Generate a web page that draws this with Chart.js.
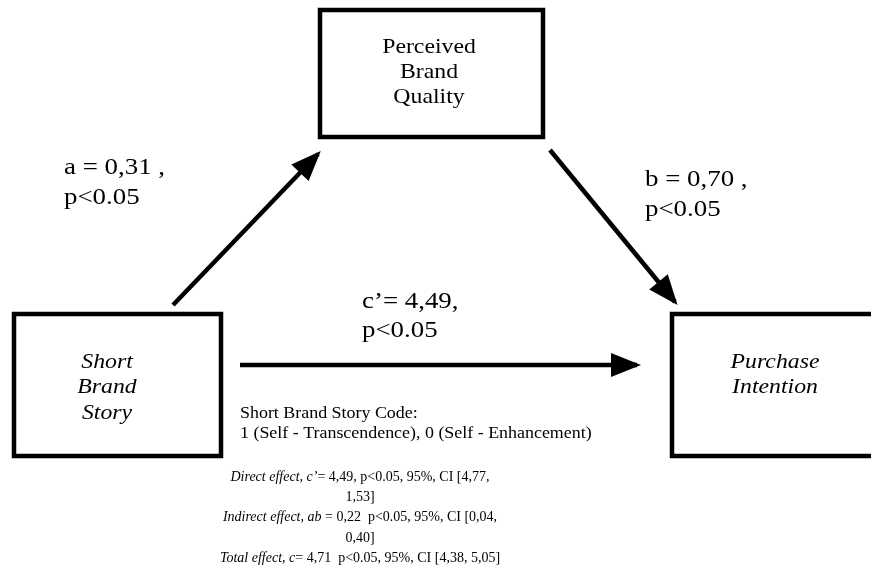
<!DOCTYPE html>
<html>
<head>
<meta charset="utf-8">
<script src="https://cdn.jsdelivr.net/npm/chart.js@4.4.1/dist/chart.umd.min.js"></script>
<style>
	html, body { margin: 0; padding: 0; background: #ffffff; }
	#wrap { width: 871px; height: 583px; }
</style>
</head>
<body>
<div id="wrap"><canvas id="mediation"></canvas></div>
<script>
// variables of the mediation model
const nodeLabels = [
	['Perceived', 'Brand', 'Quality'],
	['Short', 'Brand', 'Story'],
	['Purchase', 'Intention']
];
// path coefficients a, b, c'
const pathLabels = ['a = 0,31 ,', 'b = 0,70 ,', 'c\u2019= 4,49,'];
const pathSig = ['p<0.05', 'p<0.05', 'p<0.05'];
const codeNote = ['Short Brand Story Code:', '1 (Self - Transcendence), 0 (Self - Enhancement)'];
// [italic part, regular part]
const effectLines = [
	['Direct effect, c\u2019', '= 4,49, p<0.05, 95%, CI [4,77,'],
	['', '1,53]'],
	['Indirect effect, ab', ' = 0,22  p<0.05, 95%, CI [0,04,'],
	['', '0,40]'],
	['Total effect, c', '= 4,71  p<0.05, 95%, CI [4,38, 5,05]']
];

// layout, in canvas units (x 0..871, y 0..583 from top)
const boxes = [
	{ l: 320, t: 10, r: 543, b: 137, cx: 429, ys: [47, 72, 97], italic: false },
	{ l: 14, t: 314, r: 221, b: 456, cx: 107, ys: [362, 387, 413], italic: true },
	{ l: 672, t: 314, r: 890, b: 456, cx: 775, ys: [362, 387], italic: true }
];
const arrows = [
	{ from: [173, 305], to: [318, 154] },
	{ from: [550, 150], to: [675, 302] },
	{ from: [240, 365], to: [637, 365] }
];
const pathPos = [
	{ x: 64, ys: [168, 198] },
	{ x: 645, ys: [180, 210] },
	{ x: 362, ys: [302, 331] }
];

const SERIF = "'Liberation Serif', 'Times New Roman', serif";

// closed outline: the first edge is repeated so the start corner gets a mitre too
function boxData(bx) {
	return [
		{ x: bx.l, y: bx.t }, { x: bx.r, y: bx.t },
		{ x: bx.r, y: bx.b }, { x: bx.l, y: bx.b },
		{ x: bx.l, y: bx.t }, { x: bx.r, y: bx.t }
	];
}

const datasets = [];
boxes.forEach(function(bx) {
	datasets.push({
		data: boxData(bx),
		showLine: true,
		borderColor: '#000000',
		borderWidth: 4.5,
		borderJoinStyle: 'miter',
		pointRadius: 0,
		tension: 0
	});
});
arrows.forEach(function(ar) {
	datasets.push({
		arrow: true,
		data: [{ x: ar.from[0], y: ar.from[1] }, { x: ar.to[0], y: ar.to[1] }],
		showLine: true,
		borderColor: '#000000',
		borderWidth: 4.5,
		borderCapStyle: 'butt',
		pointRadius: 0
	});
});

function drawText(ctx, s, px, py, font, sx) {
	ctx.save();
	ctx.font = font;
	ctx.translate(px, py);
	ctx.scale(sx, 1);
	ctx.fillText(s, 0, 0);
	ctx.restore();
}
function textWidth(ctx, s, font, sx) {
	ctx.save();
	ctx.font = font;
	const w = ctx.measureText(s).width * sx;
	ctx.restore();
	return w;
}

const diagramPlugin = {
	id: 'diagramPlugin',
	afterDatasetsDraw(chart) {
		const ctx = chart.ctx;
		const xs = chart.scales.x;
		const ys = chart.scales.y;

		// arrow heads
		chart.data.datasets.forEach(function(ds, i) {
			if (!ds.arrow) return;
			const pts = chart.getDatasetMeta(i).data;
			const p0 = pts[0], p1 = pts[1];
			const ang = Math.atan2(p1.y - p0.y, p1.x - p0.x);
			const len = 30, half = 12;
			const tx = p1.x + 4 * Math.cos(ang), ty = p1.y + 4 * Math.sin(ang);
			const bx = tx - len * Math.cos(ang), by = ty - len * Math.sin(ang);
			ctx.save();
			ctx.fillStyle = '#000000';
			ctx.beginPath();
			ctx.moveTo(tx, ty);
			ctx.lineTo(bx + half * Math.sin(ang), by - half * Math.cos(ang));
			ctx.lineTo(bx - half * Math.sin(ang), by + half * Math.cos(ang));
			ctx.closePath();
			ctx.fill();
			ctx.restore();
		});

		ctx.save();
		ctx.fillStyle = '#000000';
		ctx.textBaseline = 'middle';

		// node labels
		boxes.forEach(function(bx, i) {
			const font = (bx.italic ? 'italic ' : '') + '22px ' + SERIF;
			nodeLabels[i].forEach(function(line, j) {
				const w = textWidth(ctx, line, font, 1.08);
				drawText(ctx, line, xs.getPixelForValue(bx.cx) - w / 2, ys.getPixelForValue(bx.ys[j]), font, 1.08);
			});
		});

		// path coefficients
		const coefFont = '24px ' + SERIF;
		pathPos.forEach(function(p, i) {
			drawText(ctx, pathLabels[i], xs.getPixelForValue(p.x), ys.getPixelForValue(p.ys[0]), coefFont, 1.12);
			drawText(ctx, pathSig[i], xs.getPixelForValue(p.x), ys.getPixelForValue(p.ys[1]), coefFont, 1.12);
		});

		// coding note
		const noteFont = '16px ' + SERIF;
		codeNote.forEach(function(line, j) {
			drawText(ctx, line, xs.getPixelForValue(240), ys.getPixelForValue(414 + j * 19.5), noteFont, 1.12);
		});

		// effects, centred
		const effFont = '14px ' + SERIF;
		const itFont = 'italic 14px ' + SERIF;
		effectLines.forEach(function(parts, j) {
			const w1 = parts[0] ? textWidth(ctx, parts[0], itFont, 1) : 0;
			const w2 = textWidth(ctx, parts[1], effFont, 1);
			const left = xs.getPixelForValue(360) - (w1 + w2) / 2;
			const py = ys.getPixelForValue(477 + j * 20.3);
			if (parts[0]) drawText(ctx, parts[0], left, py, itFont, 1);
			drawText(ctx, parts[1], left + w1, py, effFont, 1);
		});
		ctx.restore();
	}
};

const mediation = new Chart(
	document.getElementById('mediation'),
	{
		type: 'scatter',
		data: { datasets: datasets },
		plugins: [diagramPlugin],
		options: {
			responsive: true,
			maintainAspectRatio: false,
			animation: false,
			layout: { padding: 0 },
			plugins: {
				legend: { display: false },
				tooltip: { enabled: false },
				title: { display: false }
			},
			scales: {
				x: { type: 'linear', min: 0, max: 871, display: false },
				y: { type: 'linear', min: 0, max: 583, reverse: true, display: false }
			}
		}
	}
);
</script>
</body>
</html>
